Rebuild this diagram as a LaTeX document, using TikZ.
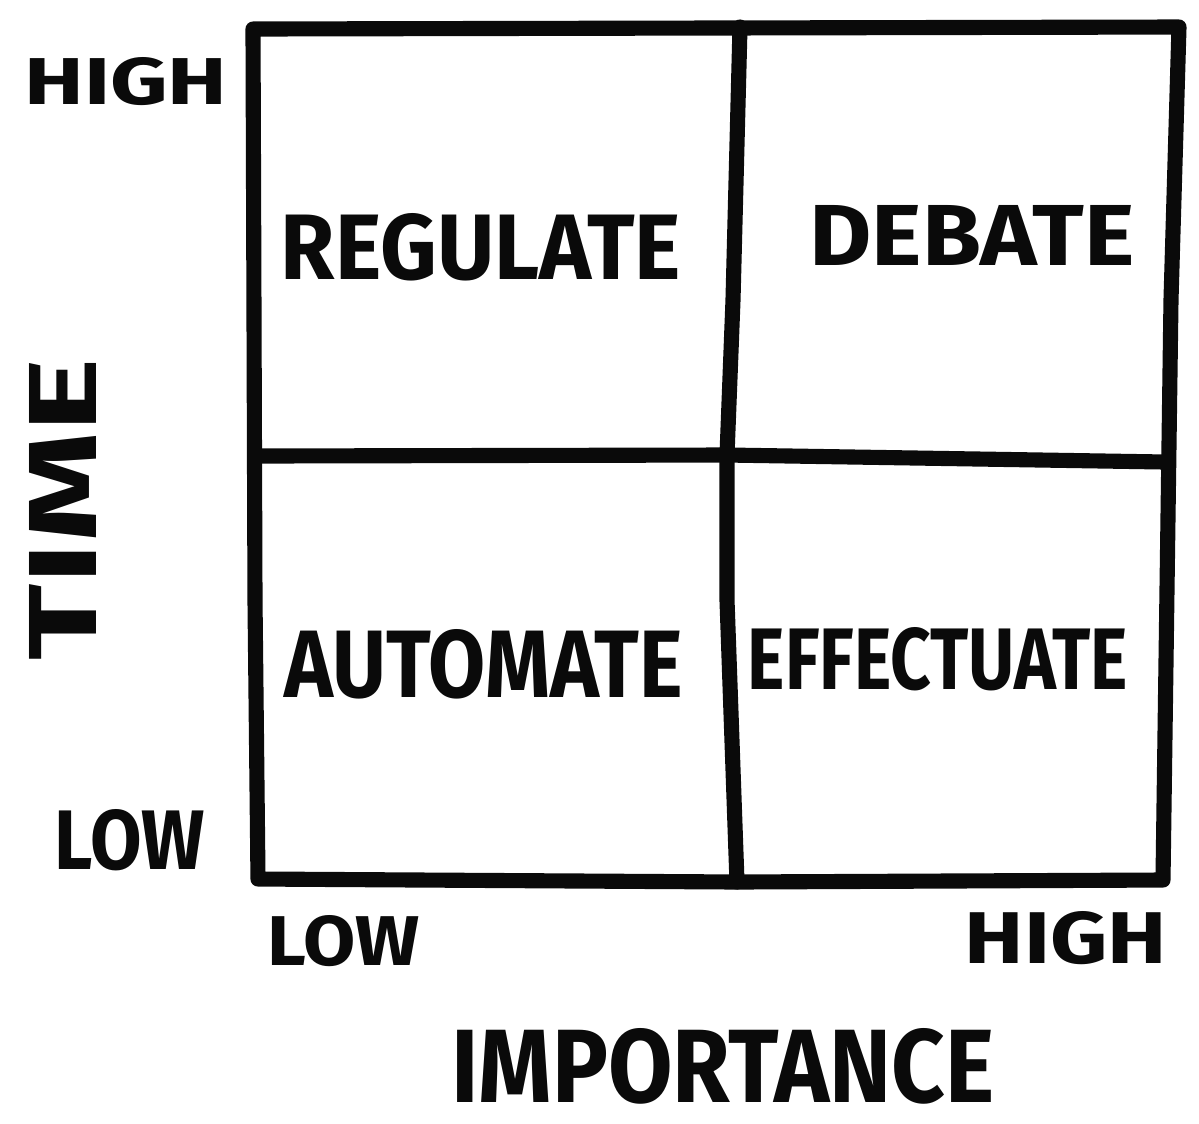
\documentclass[tikz,border=0pt]{standalone}
\usepackage{fontspec}
\setmainfont{Fira Sans}
\usepackage{graphicx}
\usetikzlibrary{positioning}
\definecolor{ink}{RGB}{10,10,10}
% scribbled words: width, height, text
\newcommand{\scrawl}[3]{\resizebox{#1}{#2}{\bfseries #3}}
\newcommand{\outerbox}{(253,29)--(1179,27)--(1171,300)--(1163,880)--(737,882)--(258,879)--(255,600)--cycle}
\newcommand{\midcol}{(740,27)--(733,300)--(727,455)--(727,600)--(737,882)}
\newcommand{\midrow}{(258,456)--(727,455)--(1165,462)}

\begin{document}
\begin{tikzpicture}[x=0.01cm,y=-0.01cm,
    grid/.style={ink,line width=4.3pt,line join=round,line cap=round},
    word/.style={ink,inner sep=0pt,outer sep=0pt}]
        \useasboundingbox (0,0) rectangle (1199,1123);
        \draw[grid] \outerbox;
        \draw[grid] \midcol; \draw[grid] \midrow;
        % quadrant names
        \node[word] (regulate) at (481,247) {\scrawl{4cm}{0.66cm}{REGULATE}};
        \node[word] (debate) at (972,235) {\scrawl{3.25cm}{0.6cm}{DEBATE}};
        \node[word] (automate) at (484,664) {\scrawl{3.98cm}{0.68cm}{AUTOMATE}};
        \node[word] (effectuate) at (938,659) {\scrawl{3.8cm}{0.62cm}{EFFECTUATE}};
        % axis ends
        \node[word] (timehigh) at (126,82) {\scrawl{2.03cm}{0.47cm}{HIGH}};
        \node[word] (timelow) at (130,840) {\scrawl{1.5cm}{0.6cm}{LOW}};
        \node[word] (implow) at (344,941) {\scrawl{1.52cm}{0.5cm}{LOW}};
        \node[word] (imphigh) at (1066,938) {\scrawl{2.02cm}{0.52cm}{HIGH}};
        % axis names
        \node[word,rotate=90] (time) at (63,509) {\scrawl{3.02cm}{0.67cm}{TIME}};
        \node[word] (importance) at (723,1066) {\scrawl{5.43cm}{0.74cm}{IMPORTANCE}};
      \end{tikzpicture}
\end{document}
